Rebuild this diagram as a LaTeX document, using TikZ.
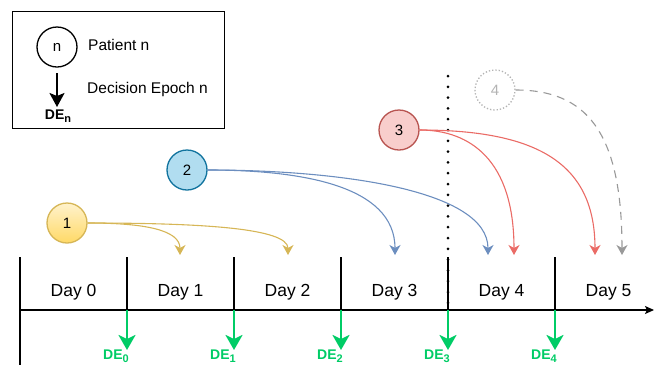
\documentclass[tikz,border=0pt]{standalone}
\usepackage{fontspec}
\setmainfont{Liberation Sans}
\usetikzlibrary{arrows.meta}
\definecolor{yfillA}{HTML}{FFF2CC}
\definecolor{yfillB}{HTML}{FFD966}
\definecolor{yline}{HTML}{D6B656}
\definecolor{bfill}{HTML}{B1DDF0}
\definecolor{bline}{HTML}{10739E}
\definecolor{barrow}{HTML}{6C8EBF}
\definecolor{rfill}{HTML}{F8CECC}
\definecolor{rline}{HTML}{B85450}
\definecolor{rarrow}{HTML}{EA6B66}
\definecolor{garrow}{HTML}{999999}
\definecolor{gtext}{HTML}{B3B3B3}
\definecolor{degreen}{HTML}{00CC66}
% subscript used in the decision-epoch labels
\newcommand{\desub}[1]{\raisebox{-2.5pt}{\fontsize{11}{12}\selectfont #1}}
\begin{document}
\begin{tikzpicture}[x=1pt,y=-1pt,
  patient/.style={circle,draw,line width=1.3pt,minimum size=40pt,inner sep=0pt,
    font=\fontsize{15}{18}\selectfont},
  flow/.style={line width=1.1pt,-{Stealth[length=10pt,width=11pt,inset=3pt]}},
  daylbl/.style={font=\fontsize{17.5}{20}\selectfont,inner sep=0pt},
  axis/.style={line width=1.1pt},
  dearrow/.style={degreen,line width=2.8pt,-{Stealth[length=15pt,width=17pt,inset=4pt]}},
  delbl/.style={text=degreen,font=\bfseries\fontsize{14}{16}\selectfont,inner sep=0pt},
  legtext/.style={font=\fontsize{15.5}{18}\selectfont,inner sep=0pt,anchor=west}]
\useasboundingbox (0,0) rectangle (654,365);

% legend
\node[draw,line width=1.3pt,minimum width=212pt,minimum height=117pt,inner sep=0pt,anchor=north west] (legend) at (12,11) {};
\node[patient,draw=black] (lgc) at (57,47) {n};
\node[legtext] (lgp) at (88,45) {Patient n};
\coordinate (lga) at (57,73);
\coordinate (lgb) at (57,107);
\draw[line width=2pt,-{Stealth[length=14pt,width=15pt,inset=3pt]}] (lga) -- (lgb);
\node[font=\bfseries\fontsize{14}{16}\selectfont,inner sep=0pt] (lgd) at (58,116) {DE\desub{n}};
\node[legtext] (lge) at (87,89) {Decision Epoch n};

% time axis and day boundaries
\coordinate (ax0) at (20,310);
\coordinate (ax1) at (654,310);
\draw[axis,-{Stealth[length=9pt,width=8pt,inset=2pt]}] (ax0) -- (ax1);
\foreach \i in {0,...,5} {
  \coordinate (tk\i) at ({20+107*\i},310);
}
\draw[axis] (tk0) ++(0,-53) -- ++(0,108);
\foreach \i in {1,...,5} {
  \draw[axis] (tk\i) -- ++(0,-53);
}

% day labels
\foreach \i in {0,...,5} {
  \node[daylbl] (day\i) at ({73.5+107*\i},292) {Day \i};
}

% decision epochs
\foreach \i in {0,...,4} {
  \coordinate (de\i) at ({127+107*\i},310);
  \coordinate (dt\i) at ({127+107*\i},350);
  \draw[dearrow] (de\i) -- (dt\i);
  \node[delbl] (del\i) at ({116+107*\i},356) {DE\desub{\i}};
}

% current-time marker
\coordinate (now0) at (448,76);
\coordinate (now1) at (448,310);
\draw[line width=3pt,line cap=round,dash pattern=on 0pt off 10.8pt] (now0) -- (now1);

% patients
\node[patient,draw=yline,top color=yfillA,bottom color=yfillB] (p1) at (67,223) {1};
\node[patient,draw=bline,fill=bfill] (p2) at (187,170) {2};
\node[patient,draw=rline,fill=rfill] (p3) at (399,130) {3};
\node[patient,draw=gtext,dotted,text=gtext] (p4) at (495,90) {4};

% arrival targets
\coordinate (a1a) at (180,255);
\coordinate (a1b) at (288,255);
\coordinate (a2a) at (395,255);
\coordinate (a2b) at (488,255);
\coordinate (a3a) at (514,255);
\coordinate (a3b) at (595,255);
\coordinate (a4a) at (622,255);

\draw[flow,yline] (p1.east) .. controls (145,223) and (180,230) .. (a1a);
\draw[flow,yline] (p1.east) .. controls (200,223) and (288,228) .. (a1b);
\draw[flow,barrow] (p2.east) .. controls (300,170) and (395,185) .. (a2a);
\draw[flow,barrow] (p2.east) .. controls (340,170) and (488,190) .. (a2b);
\draw[flow,rarrow] (p3.east) .. controls (470,130) and (514,160) .. (a3a);
\draw[flow,rarrow] (p3.east) .. controls (540,130) and (595,165) .. (a3b);
\draw[flow,garrow,dash pattern=on 8pt off 6pt] (p4.east) .. controls (585,90) and (622,130) .. (a4a);
\end{tikzpicture}
\end{document}
